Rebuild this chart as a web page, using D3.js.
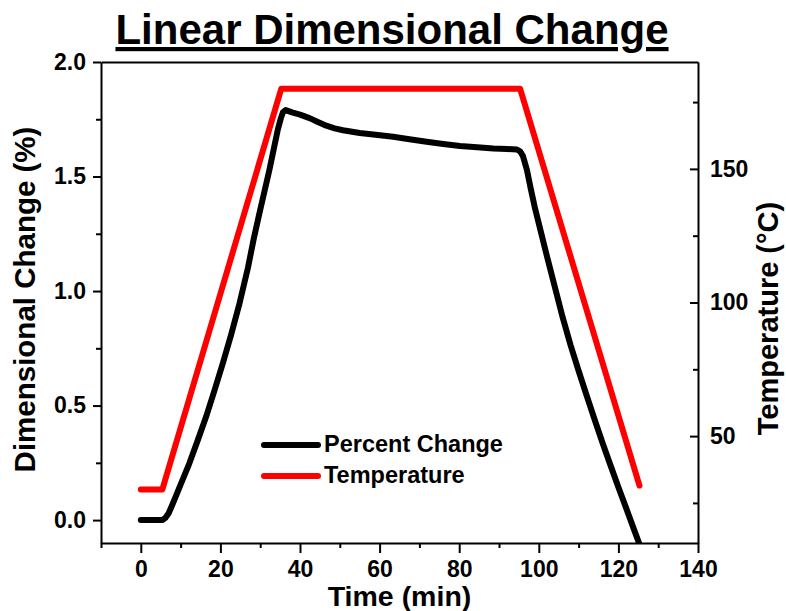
<!DOCTYPE html>
<html>
<head>
<meta charset="utf-8">
<script src="https://cdn.jsdelivr.net/npm/d3@7"></script>
<style>
  body { margin: 0; background: #fff; }
  svg text { font-family: "Liberation Sans", Arial, sans-serif; font-weight: bold; fill: #000; }
  .axis path, .axis line { stroke: #000; stroke-width: 2; }
</style>
</head>
<body>
<div id="chart"></div>
<script>
// Data
////////////////////////////////////////////////////////////////////
// Percent change (%) vs time (min)
const changeTime = [0, 5.4, 6.2, 7, 8, 10, 12.2, 14.3, 16.4, 18.5, 20.6, 22.7, 24.8, 26.9, 28.4, 29.8, 31, 32.3, 33.4, 34.4, 35.2, 35.7, 36.4, 38, 40, 42.4, 44.5, 46.6, 48.7, 50.8, 55, 59, 63.4, 67.5, 71.8, 76, 80.2, 84.5, 88.6, 92, 94.5, 95.3, 96, 97, 98, 99, 100, 102, 104, 106, 108, 110, 112, 114, 116, 118, 120, 122, 124, 125.5];
const changeValue = [0, 0, 0.01, 0.03, 0.07, 0.155, 0.248, 0.348, 0.451, 0.565, 0.684, 0.81, 0.946, 1.1, 1.23, 1.339, 1.43, 1.528, 1.62, 1.703, 1.755, 1.78, 1.79, 1.78, 1.77, 1.755, 1.738, 1.722, 1.71, 1.702, 1.69, 1.682, 1.674, 1.663, 1.652, 1.642, 1.633, 1.628, 1.622, 1.62, 1.618, 1.61, 1.59, 1.53, 1.445, 1.365, 1.295, 1.155, 1.02, 0.885, 0.763, 0.652, 0.545, 0.44, 0.338, 0.24, 0.143, 0.05, -0.045, -0.115];

// Temperature (°C) vs time (min)
const tempTime = [0, 5.4, 35.3, 95.3, 125.3];
const tempValue = [30, 30, 180, 180, 31.5];

const xTicks = [0, 20, 40, 60, 80, 100, 120, 140];
const xMinorTicks = [-10, 10, 30, 50, 70, 90, 110, 130];
const yTicks = [0, 0.5, 1.0, 1.5, 2.0];
const yMinorTicks = [0.25, 0.75, 1.25, 1.75];
const tTicks = [50, 100, 150];
const tMinorTicks = [25, 75, 125, 175];

const seriesNames = ["Percent Change", "Temperature"];
const seriesColors = ["#000000", "#ff0000"];

// Dimensions
////////////////////////////////////////////////////////////////////
let dimensions = {
  width: 786,
  height: 611,
  margin: { top: 62, bottom: 68, left: 101, right: 88 },
};
dimensions.ctrWidth = dimensions.width - dimensions.margin.left - dimensions.margin.right;
dimensions.ctrHeight = dimensions.height - dimensions.margin.top - dimensions.margin.bottom;

const svg = d3
  .select("#chart")
  .append("svg")
  .attr("width", dimensions.width)
  .attr("height", dimensions.height);

const ctr = svg
  .append("g")
  .attr("transform", `translate(${dimensions.margin.left}, ${dimensions.margin.top})`);

// Scales
////////////////////////////////////////////////////////////////////
const xScale = d3.scaleLinear().domain([-10, 140]).range([0, dimensions.ctrWidth]);
const yScale = d3.scaleLinear().domain([-0.1, 2.0]).range([dimensions.ctrHeight, 0]);
const tScale = d3.scaleLinear().domain([10, 190]).range([dimensions.ctrHeight, 0]);

// Lines
////////////////////////////////////////////////////////////////////
svg.append("defs")
  .append("clipPath")
  .attr("id", "plot-clip")
  .append("rect")
  .attr("width", dimensions.ctrWidth)
  .attr("height", dimensions.ctrHeight);

const plot = ctr.append("g").attr("clip-path", "url(#plot-clip)");

const changeLine = d3.line()
  .x((d, i) => xScale(changeTime[i]))
  .y((d) => yScale(d));

const tempLine = d3.line()
  .x((d, i) => xScale(tempTime[i]))
  .y((d) => tScale(d));

plot.append("path")
  .attr("d", tempLine(tempValue))
  .attr("fill", "none")
  .attr("stroke", seriesColors[1])
  .attr("stroke-width", 6)
  .attr("stroke-linejoin", "round")
  .attr("stroke-linecap", "round");

plot.append("path")
  .attr("d", changeLine(changeValue))
  .attr("fill", "none")
  .attr("stroke", seriesColors[0])
  .attr("stroke-width", 6)
  .attr("stroke-linejoin", "round")
  .attr("stroke-linecap", "round");

// Axes
////////////////////////////////////////////////////////////////////
// X axis
ctr.append("g")
  .classed("axis", true)
  .attr("transform", `translate(0,${dimensions.ctrHeight})`)
  .call(d3.axisBottom(xScale).tickValues(xTicks).tickSize(10).tickSizeOuter(0).tickPadding(8))
  .call((g) => g.selectAll("text").attr("font-size", 23));

ctr.append("g")
  .classed("axis", true)
  .attr("transform", `translate(0,${dimensions.ctrHeight})`)
  .call(d3.axisBottom(xScale).tickValues(xMinorTicks).tickSize(5).tickSizeOuter(0).tickFormat(""))
  .call((g) => g.select(".domain").remove());

// Top border
ctr.append("g")
  .classed("axis", true)
  .call(d3.axisTop(xScale).tickValues([]).tickSizeOuter(0));

// Left axis
ctr.append("g")
  .classed("axis", true)
  .call(d3.axisLeft(yScale).tickValues(yTicks).tickFormat(d3.format(".1f")).tickSize(8).tickSizeOuter(0).tickPadding(7))
  .call((g) => g.selectAll("text").attr("font-size", 23));

ctr.append("g")
  .classed("axis", true)
  .call(d3.axisLeft(yScale).tickValues(yMinorTicks).tickSize(5).tickSizeOuter(0).tickFormat(""))
  .call((g) => g.select(".domain").remove());

// Right axis (ticks point inward)
ctr.append("g")
  .classed("axis", true)
  .attr("transform", `translate(${dimensions.ctrWidth},0)`)
  .call(d3.axisRight(tScale).tickValues(tTicks).tickSizeInner(-8).tickSizeOuter(0).tickPadding(12))
  .call((g) => g.selectAll("text").attr("font-size", 23));

ctr.append("g")
  .classed("axis", true)
  .attr("transform", `translate(${dimensions.ctrWidth},0)`)
  .call(d3.axisRight(tScale).tickValues(tMinorTicks).tickSizeInner(-5).tickSizeOuter(0).tickFormat(""))
  .call((g) => g.select(".domain").remove());

// Axis titles
ctr.append("text")
  .attr("x", dimensions.ctrWidth / 2)
  .attr("y", dimensions.ctrHeight + 63)
  .attr("text-anchor", "middle")
  .attr("font-size", 28.5)
  .text("Time (min)");

ctr.append("text")
  .attr("transform", `translate(${-66},${dimensions.ctrHeight / 2 - 3}) rotate(-90)`)
  .attr("text-anchor", "middle")
  .attr("font-size", 29.5)
  .text("Dimensional Change (%)");

ctr.append("text")
  .attr("transform", `translate(${dimensions.ctrWidth + 80},${dimensions.ctrHeight / 2 + 16}) rotate(-90)`)
  .attr("text-anchor", "middle")
  .attr("font-size", 29)
  .text("Temperature (°C)");

// Title
svg.append("text")
  .attr("x", 392)
  .attr("y", 44)
  .attr("text-anchor", "middle")
  .attr("font-size", 42)
  .style("text-decoration", "underline")
  .text("Linear Dimensional Change");

// Legend
////////////////////////////////////////////////////////////////////
const legend = svg.append("g").attr("transform", "translate(264,445)");

const legendItem = legend
  .selectAll("g")
  .data(seriesNames)
  .join("g")
  .attr("transform", (d, i) => `translate(0,${i * 31})`);

legendItem.append("line")
  .attr("x1", 0)
  .attr("x2", 54)
  .attr("stroke", (d, i) => seriesColors[i])
  .attr("stroke-width", 6)
  .attr("stroke-linecap", "round");

legendItem.append("text")
  .attr("x", 60)
  .attr("y", 7)
  .attr("font-size", 23.5)
  .text((d) => d);
</script>
</body>
</html>
